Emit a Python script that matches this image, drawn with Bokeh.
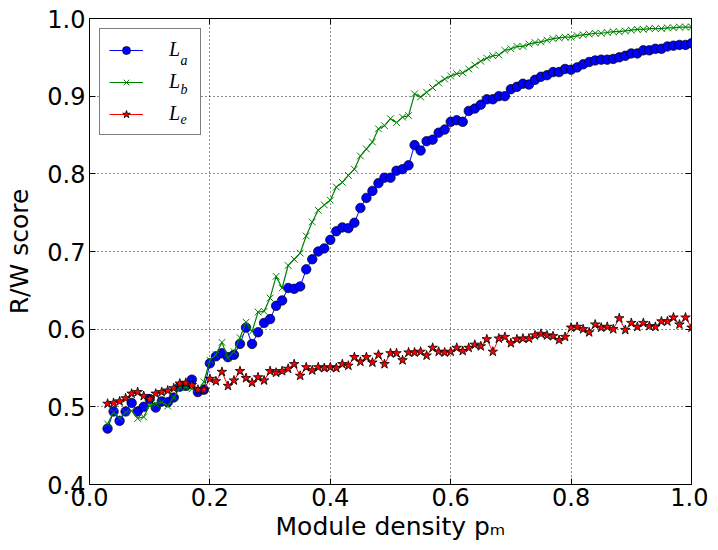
from bokeh.plotting import figure
from bokeh.models import (Range1d, LinearAxis, FixedTicker, PrintfTickFormatter,
                          Label, Legend, LegendItem, BoxAnnotation)
from bokeh.embed import file_html
from bokeh.resources import INLINE

# ---------------- data ----------------
module_density = [0.03, 0.04, 0.05, 0.06, 0.07, 0.08, 0.09, 0.10, 0.11, 0.12,
                  0.13, 0.14, 0.15, 0.16, 0.17, 0.18, 0.19, 0.20, 0.21, 0.22,
                  0.23, 0.24, 0.25, 0.26, 0.27, 0.28, 0.29, 0.30, 0.31, 0.32,
                  0.33, 0.34, 0.35, 0.36, 0.37, 0.38, 0.39, 0.40, 0.41, 0.42,
                  0.43, 0.44, 0.45, 0.46, 0.47, 0.48, 0.49, 0.50, 0.51, 0.52,
                  0.53, 0.54, 0.55, 0.56, 0.57, 0.58, 0.59, 0.60, 0.61, 0.62,
                  0.63, 0.64, 0.65, 0.66, 0.67, 0.68, 0.69, 0.70, 0.71, 0.72,
                  0.73, 0.74, 0.75, 0.76, 0.77, 0.78, 0.79, 0.80, 0.81, 0.82,
                  0.83, 0.84, 0.85, 0.86, 0.87, 0.88, 0.89, 0.90, 0.91, 0.92,
                  0.93, 0.94, 0.95, 0.96, 0.97, 0.98, 0.99, 1.00]

score_La = [0.472, 0.494, 0.482, 0.494, 0.505, 0.494, 0.500, 0.510, 0.499, 0.507,
            0.506, 0.512, 0.526, 0.527, 0.535, 0.519, 0.522, 0.556, 0.565, 0.569,
            0.564, 0.567, 0.581, 0.602, 0.581, 0.596, 0.608, 0.613, 0.630, 0.637,
            0.653, 0.652, 0.655, 0.677, 0.690, 0.700, 0.704, 0.715, 0.726, 0.731,
            0.730, 0.737, 0.756, 0.769, 0.778, 0.788, 0.795, 0.795, 0.804, 0.806,
            0.811, 0.837, 0.830, 0.842, 0.844, 0.853, 0.857, 0.867, 0.869, 0.867,
            0.881, 0.884, 0.889, 0.896, 0.896, 0.900, 0.900, 0.909, 0.912, 0.916,
            0.915, 0.921, 0.925, 0.927, 0.931, 0.931, 0.935, 0.934, 0.937, 0.941,
            0.944, 0.946, 0.947, 0.947, 0.948, 0.950, 0.952, 0.955, 0.955, 0.959,
            0.959, 0.961, 0.961, 0.964, 0.965, 0.966, 0.966, 0.968]

score_Lb = [0.478, 0.493, 0.485, 0.493, 0.495, 0.485, 0.487, 0.502, 0.504, 0.506,
            0.501, 0.512, 0.525, 0.525, 0.523, 0.521, 0.532, 0.560, 0.567, 0.583,
            0.563, 0.571, 0.589, 0.609, 0.597, 0.622, 0.623, 0.640, 0.668, 0.653,
            0.682, 0.690, 0.698, 0.720, 0.738, 0.753, 0.760, 0.766, 0.783, 0.789,
            0.798, 0.806, 0.823, 0.832, 0.841, 0.858, 0.862, 0.871, 0.866, 0.873,
            0.875, 0.903, 0.899, 0.905, 0.911, 0.917, 0.922, 0.926, 0.929, 0.930,
            0.935, 0.940, 0.945, 0.949, 0.952, 0.953, 0.959, 0.961, 0.964, 0.964,
            0.967, 0.969, 0.970, 0.972, 0.974, 0.975, 0.976, 0.976, 0.978, 0.979,
            0.980, 0.981, 0.981, 0.982, 0.983, 0.983, 0.984, 0.985, 0.986, 0.986,
            0.987, 0.987, 0.987, 0.988, 0.988, 0.989, 0.989, 0.989]

score_Le = [0.504, 0.505, 0.507, 0.511, 0.517, 0.519, 0.514, 0.510, 0.517, 0.519,
            0.521, 0.524, 0.530, 0.531, 0.528, 0.522, 0.522, 0.536, 0.533, 0.545,
            0.527, 0.534, 0.546, 0.537, 0.531, 0.538, 0.534, 0.546, 0.544, 0.546,
            0.549, 0.555, 0.540, 0.551, 0.547, 0.551, 0.550, 0.551, 0.550, 0.555,
            0.553, 0.564, 0.558, 0.564, 0.557, 0.567, 0.555, 0.569, 0.569, 0.560,
            0.570, 0.570, 0.571, 0.566, 0.576, 0.571, 0.570, 0.571, 0.576, 0.572,
            0.576, 0.580, 0.578, 0.587, 0.571, 0.588, 0.590, 0.582, 0.587, 0.588,
            0.588, 0.592, 0.594, 0.592, 0.591, 0.586, 0.590, 0.602, 0.603, 0.600,
            0.596, 0.606, 0.602, 0.603, 0.600, 0.614, 0.599, 0.608, 0.603, 0.608,
            0.604, 0.603, 0.610, 0.610, 0.615, 0.606, 0.615, 0.602]

x_ticks = [0.0, 0.2, 0.4, 0.6, 0.8, 1.0]
y_ticks = [0.4, 0.5, 0.6, 0.7, 0.8, 0.9, 1.0]
legend_subscripts = ["a", "b", "e"]
x_label = "Module density p\u2098"
y_label = "R/W score"

# ---------------- figure ----------------
p = figure(frame_width=602, frame_height=466,
           min_border_left=89, min_border_right=17,
           min_border_top=18, min_border_bottom=62,
           x_range=Range1d(0.0, 1.0), y_range=Range1d(0.4, 1.0),
           output_backend="svg", toolbar_location=None,
           background_fill_color="white", border_fill_color="white")

p.outline_line_color = "black"
p.outline_line_width = 1

bottom_axis = p.xaxis[0]
left_axis = p.yaxis[0]
top_axis = LinearAxis()
right_axis = LinearAxis()
p.add_layout(top_axis, "above")
p.add_layout(right_axis, "right")

for ax in [bottom_axis, top_axis]:
    ax.ticker = FixedTicker(ticks=x_ticks)
for ax in [left_axis, right_axis]:
    ax.ticker = FixedTicker(ticks=y_ticks)

for ax in [bottom_axis, left_axis, top_axis, right_axis]:
    ax.formatter = PrintfTickFormatter(format="%.1f")
    ax.major_tick_in = 6
    ax.major_tick_out = 0
    ax.minor_tick_in = 0
    ax.minor_tick_out = 0
    ax.axis_line_color = "black"
    ax.axis_line_width = 1
    ax.major_tick_line_color = "black"
    ax.major_tick_line_width = 1
    ax.major_label_text_font = "DejaVu Sans"
    ax.major_label_text_font_size = "24px"
    ax.major_label_text_color = "black"

bottom_axis.major_label_standoff = 3
left_axis.major_label_standoff = 4
for ax in [top_axis, right_axis]:
    ax.major_label_text_font_size = "0px"
    ax.major_label_text_alpha = 0
    ax.major_label_standoff = 0

bottom_axis.axis_label = x_label
bottom_axis.axis_label_text_font = "DejaVu Sans"
bottom_axis.axis_label_text_font_size = "25px"
bottom_axis.axis_label_text_font_style = "normal"
bottom_axis.axis_label_text_color = "black"
bottom_axis.axis_label_standoff = 3

left_axis.axis_label = y_label
left_axis.axis_label_text_font = "DejaVu Sans"
left_axis.axis_label_text_font_size = "25px"
left_axis.axis_label_text_font_style = "normal"
left_axis.axis_label_text_color = "black"
left_axis.axis_label_standoff = 10

p.xgrid.ticker = FixedTicker(ticks=x_ticks)
p.ygrid.ticker = FixedTicker(ticks=y_ticks)
for g in [p.xgrid[0], p.ygrid[0]]:
    g.grid_line_color = "black"
    g.grid_line_dash = "1 3"
    g.grid_line_width = 1
    g.grid_line_alpha = 0.9

# white backing for the legend box (hides the grid under it)
p.add_layout(BoxAnnotation(left=10, right=110, top=456, bottom=360,
                           left_units="screen", right_units="screen",
                           top_units="screen", bottom_units="screen",
                           fill_color="white", fill_alpha=1, line_alpha=0,
                           level="underlay"))

# ---------------- series ----------------
la_line = p.line(module_density, score_La, line_color="blue", line_width=1)
la_pts = p.scatter(module_density, score_La, marker="circle", size=9.5,
                   fill_color="blue", line_color="black", line_width=0.7)
lb_line = p.line(module_density, score_Lb, line_color="green", line_width=1.2)
lb_pts = p.scatter(module_density, score_Lb, marker="x", size=9.5,
                   line_color="green", line_width=1)
le_line = p.line(module_density, score_Le, line_color="red", line_width=1)
le_pts = p.scatter(module_density, score_Le, marker="star", size=10,
                   fill_color="red", line_color="black", line_width=0.8)

legend = Legend(items=[LegendItem(label="L", renderers=[la_line, la_pts]),
                       LegendItem(label="L", renderers=[lb_line, lb_pts]),
                       LegendItem(label="L", renderers=[le_line, le_pts])],
                location="top_left", margin=10, padding=9, spacing=9,
                glyph_width=34, glyph_height=20, label_height=20,
                label_width=22, label_standoff=26,
                border_line_color="black", border_line_width=1,
                background_fill_alpha=0,
                label_text_font="Liberation Serif", label_text_font_style="italic",
                label_text_font_size="20px", label_text_color="black")
p.add_layout(legend)

# subscripts of the legend labels
for k, name in enumerate(legend_subscripts):
    p.add_layout(Label(x=91, y=424 - 29 * k, x_units="screen", y_units="screen",
                       text=name, text_font="Liberation Serif",
                       text_font_style="italic", text_font_size="14px",
                       text_color="black", text_baseline="alphabetic",
                       text_align="left"))

open("out.html", "w").write(file_html(p, INLINE))
